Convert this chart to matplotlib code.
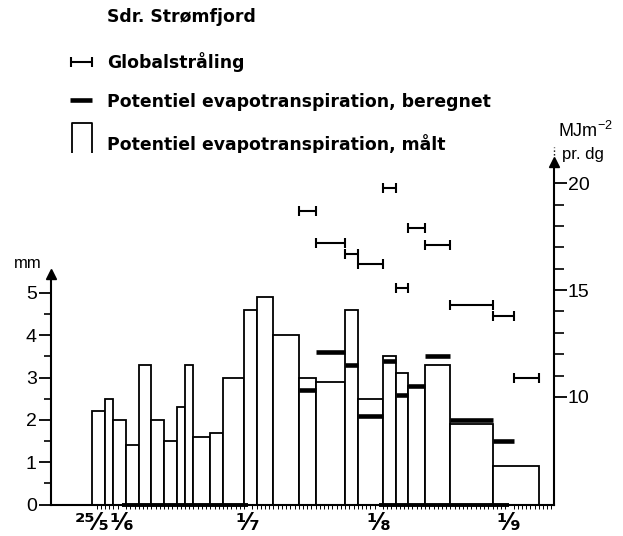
import matplotlib
matplotlib.use('Agg')
import matplotlib.pyplot as plt
from matplotlib import font_manager
from matplotlib.ticker import FixedLocator

# dage regnet fra 1/6
bar_start = [-7, -4, -2, 1, 4, 7, 10, 13, 15, 17, 21, 24, 29, 32, 36, 42, 46, 53, 56, 62, 65, 68, 72, 78, 88]
bar_end   = [-4, -2, 1, 4, 7, 10, 13, 15, 17, 21, 24, 29, 32, 36, 42, 46, 53, 56, 62, 65, 68, 72, 78, 88, 99]
maalt     = [2.2, 2.5, 2.0, 1.4, 3.3, 2.0, 1.5, 2.3, 3.3, 1.6, 1.7, 3.0, 4.6, 4.9, 4.0,
             3.0, 2.9, 4.6, 2.5, 3.5, 3.1, 2.8, 3.3, 1.9, 0.9]

calc_start = [42, 46, 53, 56, 62, 65, 68, 72, 78, 88]
calc_end   = [46, 53, 56, 62, 65, 68, 72, 78, 88, 93]
beregnet   = [2.7, 3.6, 3.3, 2.1, 3.4, 2.6, 2.8, 3.5, 2.0, 1.5]

glob_start = [42, 46, 53, 56, 62, 65, 68, 72, 78, 88, 93]
glob_end   = [46, 53, 56, 62, 65, 68, 72, 78, 88, 93, 99]
globalstr  = [18.7, 17.2, 16.7, 16.2, 19.8, 15.1, 17.9, 17.1, 14.3, 13.8, 10.9]

x_ticks  = [-7, 0, 30, 61, 92]
x_labels = ['²⁵⁄₅', '¹⁄₆', '¹⁄₇', '¹⁄₈', '¹⁄₉']
bold_months = [(0, 30), (61, 92)]

names = {f.name for f in font_manager.fontManager.ttflist}
narrow = 'Liberation Sans Narrow' if 'Liberation Sans Narrow' in names else 'Liberation Sans'

plt.rcParams['mathtext.fontset'] = 'custom'
plt.rcParams['mathtext.rm'] = narrow

W, H = 623, 536
fig = plt.figure(figsize=(W / 100, H / 100), dpi=100)
ax = fig.add_axes([50.7 / W, 31.5 / H, 503.3 / W, 351.1 / H])

xmin, xmax = -16.9, 102.6
ymax = 8.30
ax.set_xlim(xmin, xmax)
ax.set_ylim(0, ymax)

widths = [e - s for s, e in zip(bar_start, bar_end)]
ax.bar(bar_start, maalt, width=widths, align='edge', facecolor='white',
       edgecolor='black', linewidth=1.3, zorder=2)
ax.hlines(beregnet, calc_start, calc_end, colors='black', linewidth=3.3,
          capstyle='butt', zorder=3)

for a, b in bold_months:
    ax.plot([a, b], [0, 0], color='black', lw=2.8, solid_capstyle='butt',
            clip_on=False, zorder=4)

ax2 = ax.twinx()
r0, rs = 4.96, 1.981
ax2.set_ylim(r0, r0 + rs * ymax)
mid = [(s + e) / 2 for s, e in zip(glob_start, glob_end)]
half = [(e - s) / 2 for s, e in zip(glob_start, glob_end)]
ax2.errorbar(mid, globalstr, xerr=half, fmt='none', ecolor='black',
             elinewidth=1.5, capsize=3.5, capthick=1.5)

# akser
for s in ['top', 'right']:
    ax.spines[s].set_visible(False)
for s in ['top', 'left', 'bottom']:
    ax2.spines[s].set_visible(False)
for s in ['left', 'bottom']:
    ax.spines[s].set_linewidth(1.5)
ax2.spines['right'].set_linewidth(1.5)
ax.spines['left'].set_bounds(0, 5.45)
ax2.spines['right'].set_bounds(r0, 21.0)

ax.plot([xmin], [5.45], marker='^', ms=7, color='black', clip_on=False, zorder=5)
ax2.plot([xmax], [21.0], marker='^', ms=7, color='black', clip_on=False, zorder=5)
ax2.plot([xmax, xmax], [21.35, 21.7], ls=':', lw=1, color='black', clip_on=False)

ax.yaxis.set_major_locator(FixedLocator(range(6)))
ax.yaxis.set_minor_locator(FixedLocator([0.5, 1.5, 2.5, 3.5, 4.5]))
ax.tick_params(axis='y', which='major', length=9, width=1.3, pad=1,
               labelsize=14, labelfontfamily=narrow)
ax.tick_params(axis='y', which='minor', length=5, width=1.2)

ax2.yaxis.set_major_locator(FixedLocator([10, 15, 20]))
ax2.yaxis.set_minor_locator(FixedLocator([11, 12, 13, 14, 16, 17, 18, 19]))
ax2.tick_params(axis='y', which='major', length=9, width=1.3, pad=1,
                labelsize=14, labelfontfamily=narrow)
ax2.tick_params(axis='y', which='minor', length=7, width=1.2)

ax.set_xticks(x_ticks)
ax.set_xticklabels(x_labels, family='DejaVu Sans', weight='bold')
ax.xaxis.set_minor_locator(FixedLocator(range(-7, 103)))
ax.tick_params(axis='x', which='major', length=0, pad=5, labelsize=17)
ax.tick_params(axis='x', which='minor', length=3, width=0.7)

# tekst og signaturforklaring i pixel-koordinater
ov = fig.add_axes([0, 0, 1, 1], zorder=-1)
ov.set_xlim(0, W)
ov.set_ylim(H, 0)
ov.axis('off')

tkw = dict(family='DejaVu Sans', weight='bold', fontsize=12.4, va='center', ha='left')
ov.text(106.7, 16.7, 'Sdr. Strømfjord', **tkw)
ov.text(106.7, 61.7, 'Globalstråling', **tkw)
ov.text(106.7, 101.7, 'Potentiel evapotranspiration, beregnet', **tkw)
ov.text(106.7, 144, 'Potentiel evapotranspiration, målt', **tkw)

ov.errorbar([81], [61.7], xerr=[10.5], fmt='none', ecolor='black',
            elinewidth=1.5, capsize=3.5, capthick=1.5)
ov.plot([70, 92], [100, 100], color='black', lw=3.3, solid_capstyle='butt')
ov.plot([71.7, 71.7, 91.7, 91.7], [165, 123, 123, 165], color='black', lw=1.3)

ov.text(28, 263, 'mm', family=narrow, fontsize=12, ha='center', va='center')
ov.text(558, 131, r'MJm$^{-2}$', family=narrow, fontsize=13, ha='left', va='center')
ov.text(562, 154, 'pr. dg', family=narrow, fontsize=12, ha='left', va='center')

fig.savefig('out.png', dpi=100)
